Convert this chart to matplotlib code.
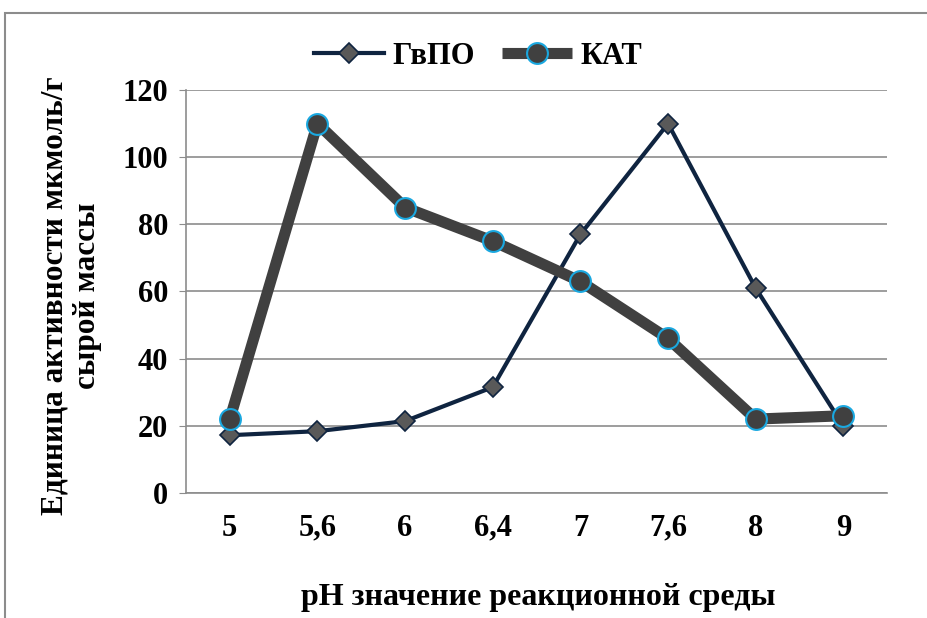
import numpy as np
import matplotlib.pyplot as plt
from matplotlib.patches import Rectangle

# Data
ph_labels = ['5', '5,6', '6', '6,4', '7', '7,6', '8', '9']
gvpo = [17.2, 18.4, 21.4, 31.5, 77, 110, 61, 20]
kat = [22, 110, 85, 75, 63, 46, 22, 23]

plt.rcParams['font.family'] = ['Liberation Serif', 'DejaVu Serif']
plt.rcParams['font.weight'] = 'bold'

fig = plt.figure(figsize=(9.28, 6.18), dpi=100)
ax = fig.add_axes([0.2004, 0.2023, 0.7556, 0.6521])

# outer frame
fig.patches.append(Rectangle((5 / 928, -0.1), 1.1, 1 - 13 / 618 + 0.1,
                             transform=fig.transFigure, fill=False,
                             edgecolor='#8c8c8c', linewidth=1.5))

x = np.arange(len(ph_labels))
ax.plot(x, gvpo, color='#0f2440', linewidth=3, marker='D', markersize=10,
        markerfacecolor='#595959', markeredgecolor='#0f2440', markeredgewidth=1.2,
        label='ГвПО', zorder=3)
ax.plot(x, kat, color='#404040', linewidth=8, marker='o', markersize=15,
        markerfacecolor='#404040', markeredgecolor='#1aa8e0', markeredgewidth=1.5,
        label='КАТ', zorder=4, solid_capstyle='butt')

ax.set_xlim(-0.5, len(ph_labels) - 0.5)
ax.set_ylim(0, 120)
ax.set_yticks(np.arange(0, 121, 20))
ax.set_xticks(x)
ax.set_xticklabels(ph_labels)
ax.tick_params(axis='both', labelsize=22, colors='#000000')
ax.tick_params(axis='x', length=0, pad=15)
ax.tick_params(axis='y', length=5, color='#8c8c8c', pad=8)
for lab in ax.get_xticklabels() + ax.get_yticklabels():
    lab.set_fontweight('bold')

ax.grid(axis='y', color='#8c8c8c', linewidth=1.2)
ax.set_axisbelow(True)
for s in ['top', 'right']:
    ax.spines[s].set_visible(False)
ax.spines['left'].set_color('#8c8c8c')
ax.spines['bottom'].set_color('#8c8c8c')
ax.spines['left'].set_linewidth(1.2)
ax.spines['bottom'].set_linewidth(1.2)

fig.text(538 / 928, 1 - 598 / 618, 'pH значение реакционной среды', fontsize=23,
         fontweight='bold', ha='center', va='center')

fig.text(71 / 928, 1 - 296 / 618, 'Единица активности мкмоль/г\nсырой массы',
         fontsize=22.5, fontweight='bold', rotation=90, ha='center', va='center',
         multialignment='center', linespacing=1.15)

leg = fig.legend(loc='center', bbox_to_anchor=(478 / 928, 1 - 56 / 618), ncol=2,
                 frameon=False, handlelength=2.3, columnspacing=0.9,
                 handletextpad=0.25, prop={'weight': 'bold', 'size': 22})

fig.savefig('out.png', dpi=100)
